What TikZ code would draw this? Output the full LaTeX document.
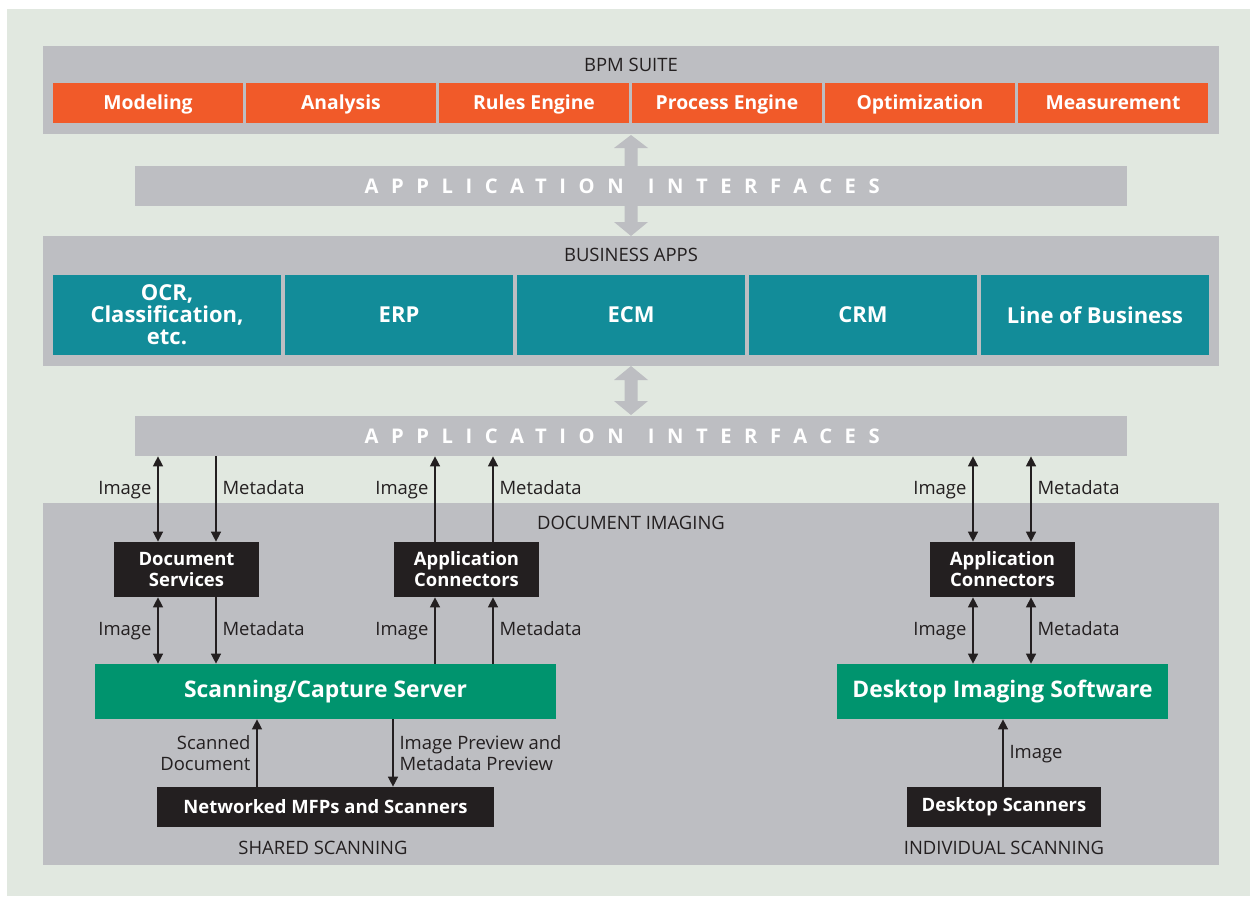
\documentclass[tikz,border=0pt]{standalone}
\usepackage{fontspec}
\setmainfont{Open Sans}
\newfontfamily\bandfont[LetterSpace=62]{Open Sans}
\usetikzlibrary{arrows.meta}

\definecolor{bggreen}{HTML}{E1E8E0}
\definecolor{panelgray}{HTML}{BDBEC2}
\definecolor{bpmorange}{HTML}{F15A29}
\definecolor{appteal}{HTML}{128C99}
\definecolor{srvgreen}{HTML}{00946E}
\definecolor{boxblack}{HTML}{231F20}

\begin{document}
\begin{tikzpicture}[x=0.02cm,y=-0.02cm,
  >={Triangle[length=2mm,width=2mm]},
  panel/.style={fill=panelgray,inner sep=0pt,minimum width=235.2mm},
  band/.style={fill=panelgray,inner sep=0pt,minimum width=198.4mm,minimum height=8mm,text=white,font=\bandfont\bfseries\fontsize{11.5}{13}\selectfont},
  title/.style={text=boxblack,font=\fontsize{10.5}{12}\selectfont},
  bpmbox/.style={fill=bpmorange,text=white,inner sep=0pt,minimum width=38mm,minimum height=8mm,text height=1.45ex,text depth=0.1ex,font=\bfseries\fontsize{11}{13}\selectfont},
  appbox/.style={fill=appteal,text=white,inner sep=0pt,minimum width=45.6mm,minimum height=16mm,align=center,font=\bfseries\fontsize{12.5}{12.5}\selectfont},
  blkbox/.style={fill=boxblack,text=white,inner sep=0pt,minimum height=11mm,align=center,font=\bfseries\fontsize{10.5}{12}\selectfont},
  srvbox/.style={fill=srvgreen,text=white,inner sep=0pt,minimum height=11mm,text height=1.45ex,text depth=0.1ex,font=\bfseries\fontsize{13}{15}\selectfont},
  lbl/.style={text=boxblack,align=left,text height=1.6ex,text depth=0.45ex,font=\fontsize{10.5}{12}\selectfont},
  twolbl/.style={text=boxblack,font=\fontsize{10.5}{12}\selectfont},
  flow/.style={draw=boxblack,line width=0.8pt}]

\useasboundingbox (0,0) rectangle (1250,896);
\fill[bggreen] (7,9) rectangle (1250,896);

% BPM suite
\node[panel,minimum height=17.6mm] (bpm) at (631,90) {};
\node[title] (bpmt) at (631,65) {BPM SUITE};
\node[bpmbox] (mod) at (148,103) {Modeling};
\node[bpmbox] (ana) at (341,103) {Analysis};
\node[bpmbox] (rul) at (534,103) {Rules Engine};
\node[bpmbox] (pro) at (727,103) {Process Engine};
\node[bpmbox] (opt) at (920,103) {Optimization};
\node[bpmbox] (mea) at (1113,103) {Measurement};

% Upper interfaces
\fill[panelgray] (631,135) -- (648,148) -- (637.5,148) -- (637.5,222) -- (648,222) -- (631,236)
  -- (614,222) -- (624.5,222) -- (624.5,148) -- (614,148) -- cycle;
\node[band] (ai1) at (631,186) {APPLICATION\hspace{1.2em}INTERFACES\hspace*{10pt}};

% Business apps
\node[panel,minimum height=26mm] (biz) at (631,301) {};
\node[title] (bizt) at (631,255) {BUSINESS APPS};
\node[appbox] (ocr) at (167,315) {OCR,\\Classification,\\etc.};
\node[appbox] (erp) at (399,315) {ERP};
\node[appbox] (ecm) at (631,315) {ECM};
\node[appbox] (crm) at (863,315) {CRM};
\node[appbox] (lob) at (1095,315) {Line of Business};

% Lower interfaces
\fill[panelgray] (631,366) -- (648,380) -- (637.5,380) -- (637.5,401) -- (648,401) -- (631,415)
  -- (614,401) -- (624.5,401) -- (624.5,380) -- (614,380) -- cycle;
\node[band] (ai2) at (631,436) {APPLICATION\hspace{1.2em}INTERFACES\hspace*{10pt}};

% Document imaging
\node[panel,minimum height=72.4mm] (doc) at (631,684) {};
\node[title] (doct) at (631,523) {DOCUMENT IMAGING};
\node[blkbox,minimum width=29mm] (ds) at (186.5,569.5) {Document\\Services};
\node[blkbox,minimum width=29mm] (ac1) at (466.5,569.5) {Application\\Connectors};
\node[blkbox,minimum width=29mm] (ac2) at (1002.5,569.5) {Application\\Connectors};
\node[srvbox,minimum width=92.2mm] (scs) at (325.5,691.5) {Scanning/Capture Server};
\node[srvbox,minimum width=66.2mm] (dis) at (1002.5,691.5) {Desktop Imaging Software};
\node[blkbox,minimum width=67.4mm,minimum height=8mm] (mfp) at (325.5,807) {Networked MFPs and Scanners};
\node[blkbox,minimum width=38.8mm,minimum height=8mm] (dsc) at (1004,807) {Desktop Scanners};
\node[title] (shr) at (323,848) {SHARED SCANNING};
\node[title] (ind) at (1004,848) {INDIVIDUAL SCANNING};

% Shared scanning flows
\draw[flow,<->] (ai2.south -| 158,0) -- node[lbl,left,pos=0.38] (l1) {Image} (ds.north -| 158,0);
\draw[flow,->] (ai2.south -| 216,0) -- node[lbl,right,pos=0.38] (l2) {Metadata} (ds.north -| 216,0);
\draw[flow,<->] (ds.south -| 158,0) -- node[lbl,left] (l3) {Image} (scs.north -| 158,0);
\draw[flow,->] (ds.south -| 216,0) -- node[lbl,right] (l4) {Metadata} (scs.north -| 216,0);
\draw[flow,->] (ac1.north -| 435,0) -- node[lbl,left,pos=0.62] (l5) {Image} (ai2.south -| 435,0);
\draw[flow,->] (ac1.north -| 493,0) -- node[lbl,right,pos=0.62] (l6) {Metadata} (ai2.south -| 493,0);
\draw[flow,->] (scs.north -| 435,0) -- node[lbl,left] (l7) {Image} (ac1.south -| 435,0);
\draw[flow,->] (scs.north -| 493,0) -- node[lbl,right] (l8) {Metadata} (ac1.south -| 493,0);
\draw[flow,->] (mfp.north -| 257,0) -- node[twolbl,left,align=right] (l9) {Scanned\\Document} (scs.south -| 257,0);
\draw[flow,->] (scs.south -| 393,0) -- node[twolbl,right,align=left] (l10) {Image Preview and\\Metadata Preview} (mfp.north -| 393,0);

% Individual scanning flows
\draw[flow,<->] (ai2.south -| 973,0) -- node[lbl,left,pos=0.38] (l11) {Image} (ac2.north -| 973,0);
\draw[flow,<->] (ai2.south -| 1031,0) -- node[lbl,right,pos=0.38] (l12) {Metadata} (ac2.north -| 1031,0);
\draw[flow,<->] (ac2.south -| 973,0) -- node[lbl,left] (l13) {Image} (dis.north -| 973,0);
\draw[flow,<->] (ac2.south -| 1031,0) -- node[lbl,right] (l14) {Metadata} (dis.north -| 1031,0);
\draw[flow,->] (dsc.north -| 1003,0) -- node[lbl,right] (l15) {Image} (dis.south -| 1003,0);

\end{tikzpicture}
\end{document}
